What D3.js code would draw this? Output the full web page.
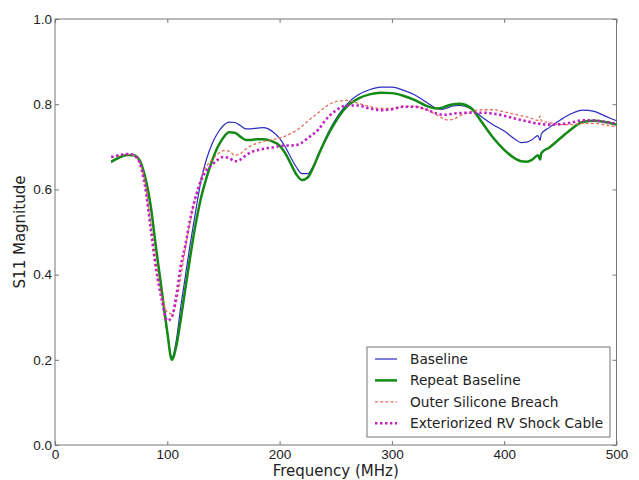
<!DOCTYPE html>
<html>
<head>
<meta charset="utf-8">
<script src="https://cdn.jsdelivr.net/npm/d3@7"></script>
<style>
  body { margin: 0; background: #fff; }
  svg { display: block; font-family: "DejaVu Sans", sans-serif; }
  .axis path, .axis line { stroke: #777; }
  .axis text { font-size: 13.5px; fill: #222; }
</style>
</head>
<body>
<svg id="chart"></svg>
<script>
"use strict";

// ---- data ----
const freq = [50, 55, 60, 65, 70, 75, 80, 85, 90, 95, 100, 104, 108, 112, 116, 120, 125, 130, 135, 140,
  145, 150, 155, 160, 165, 170, 175, 180, 185, 190, 195, 200, 205, 210, 215, 220, 225, 230, 235, 240,
  250, 260, 270, 280, 290, 300, 310, 320, 330, 340, 345, 350, 355, 360, 370, 380, 390, 400, 410, 415,
  420, 425, 430, 432, 433, 440, 450, 460, 470, 480, 490, 500];

const baseline = [0.663, 0.671, 0.677, 0.681, 0.680, 0.670, 0.632, 0.565, 0.462, 0.364, 0.262, 0.205, 0.245, 0.325, 0.395, 0.465, 0.545, 0.620, 0.672, 0.708,
  0.733, 0.750, 0.758, 0.757, 0.750, 0.742, 0.742, 0.744, 0.745, 0.742, 0.733, 0.720, 0.700, 0.675, 0.652, 0.637, 0.637, 0.655, 0.685, 0.715,
  0.765, 0.800, 0.822, 0.834, 0.840, 0.840, 0.833, 0.822, 0.806, 0.790, 0.788, 0.792, 0.796, 0.797, 0.790, 0.770, 0.752, 0.737, 0.717, 0.710,
  0.711, 0.717, 0.726, 0.715, 0.730, 0.745, 0.763, 0.778, 0.786, 0.783, 0.772, 0.761];

const repeatBaseline = [0.665, 0.672, 0.678, 0.681, 0.680, 0.670, 0.632, 0.565, 0.462, 0.364, 0.265, 0.200, 0.232, 0.295, 0.366, 0.435, 0.515, 0.580, 0.628, 0.668,
  0.700, 0.722, 0.734, 0.733, 0.724, 0.716, 0.716, 0.718, 0.718, 0.716, 0.711, 0.703, 0.685, 0.660, 0.635, 0.622, 0.628, 0.652, 0.683, 0.712,
  0.760, 0.795, 0.813, 0.823, 0.827, 0.826, 0.820, 0.810, 0.797, 0.790, 0.792, 0.797, 0.800, 0.801, 0.792, 0.758, 0.722, 0.693, 0.672, 0.666,
  0.665, 0.670, 0.680, 0.670, 0.685, 0.698, 0.720, 0.742, 0.758, 0.761, 0.758, 0.752];

const siliconeBreach = [0.675, 0.678, 0.681, 0.682, 0.680, 0.665, 0.620, 0.525, 0.425, 0.350, 0.312, 0.308, 0.335, 0.395, 0.460, 0.520, 0.580, 0.628, 0.655, 0.670,
  0.683, 0.691, 0.690, 0.680, 0.684, 0.695, 0.703, 0.708, 0.712, 0.715, 0.718, 0.720, 0.725, 0.731, 0.739, 0.748, 0.760, 0.771, 0.781, 0.792,
  0.806, 0.809, 0.802, 0.795, 0.790, 0.790, 0.795, 0.795, 0.788, 0.775, 0.767, 0.763, 0.765, 0.772, 0.782, 0.787, 0.787, 0.782, 0.776, 0.773,
  0.770, 0.766, 0.762, 0.772, 0.761, 0.757, 0.752, 0.752, 0.755, 0.755, 0.751, 0.747];

const shockCable = [0.676, 0.679, 0.682, 0.683, 0.680, 0.665, 0.610, 0.513, 0.413, 0.342, 0.292, 0.300, 0.350, 0.420, 0.468, 0.525, 0.580, 0.620, 0.645, 0.658,
  0.670, 0.676, 0.674, 0.666, 0.670, 0.680, 0.688, 0.692, 0.695, 0.697, 0.699, 0.702, 0.703, 0.703, 0.704, 0.710, 0.720, 0.730, 0.742, 0.760,
  0.785, 0.797, 0.797, 0.790, 0.786, 0.788, 0.794, 0.794, 0.788, 0.778, 0.775, 0.776, 0.778, 0.779, 0.780, 0.780, 0.778, 0.773, 0.766, 0.763,
  0.760, 0.757, 0.754, 0.754, 0.753, 0.752, 0.753, 0.757, 0.762, 0.762, 0.758, 0.755];

const seriesNames = ["Baseline", "Repeat Baseline", "Outer Silicone Breach", "Exteriorized RV Shock Cable"];
const seriesValues = [baseline, repeatBaseline, siliconeBreach, shockCable];

const xTicks = [0, 100, 200, 300, 400, 500];
const yTicks = [0.0, 0.2, 0.4, 0.6, 0.8, 1.0];

// ---- styles per series ----
const styles = [
  { color: "#2b2bc0", width: 1.2, dash: null },
  { color: "#138a13", width: 2.5, dash: null },
  { color: "#e2705c", width: 1.3, dash: "3,2.2" },
  { color: "#c21fc2", width: 2.6, dash: "2.4,2.6" }
];

// ---- layout ----
const W = 639, H = 480;
const plot = { left: 55, top: 19, right: 616.5, bottom: 445 };

const svg = d3.select("#chart").attr("width", W).attr("height", H);

const x = d3.scaleLinear().domain([0, 500]).range([plot.left, plot.right]);
const y = d3.scaleLinear().domain([0, 1]).range([plot.bottom, plot.top]);

// frame
svg.append("rect")
  .attr("x", plot.left).attr("y", plot.top)
  .attr("width", plot.right - plot.left).attr("height", plot.bottom - plot.top)
  .attr("fill", "none").attr("stroke", "#777").attr("stroke-width", 1);

// axes, ticks pointing inward
svg.append("g").attr("class", "axis")
  .attr("transform", `translate(0,${plot.bottom})`)
  .call(d3.axisBottom(x).tickValues(xTicks).tickSizeInner(-4).tickSizeOuter(0).tickPadding(4).tickFormat(d3.format("d")));

svg.append("g").attr("class", "axis")
  .attr("transform", `translate(0,${plot.top})`)
  .call(d3.axisTop(x).tickValues(xTicks).tickSizeInner(-4).tickSizeOuter(0).tickFormat(""));

svg.append("g").attr("class", "axis")
  .attr("transform", `translate(${plot.left},0)`)
  .call(d3.axisLeft(y).tickValues(yTicks).tickSizeInner(-4).tickSizeOuter(0).tickPadding(3).tickFormat(d3.format(".1f")));

svg.append("g").attr("class", "axis")
  .attr("transform", `translate(${plot.right},0)`)
  .call(d3.axisRight(y).tickValues(yTicks).tickSizeInner(-4).tickSizeOuter(0).tickFormat(""));

svg.selectAll(".axis .domain").remove();

// curves
const line = d3.line()
  .x(d => x(d[0]))
  .y(d => y(d[1]))
  .curve(d3.curveMonotoneX);

seriesValues.forEach((vals, i) => {
  const pts = freq.map((f, j) => [f, vals[j]]);
  svg.append("path")
    .datum(pts)
    .attr("d", line)
    .attr("fill", "none")
    .attr("stroke", styles[i].color)
    .attr("stroke-width", styles[i].width)
    .attr("stroke-dasharray", styles[i].dash)
    .attr("stroke-linejoin", "round");
});

// axis labels
svg.append("text")
  .attr("x", (plot.left + plot.right) / 2)
  .attr("y", 476)
  .attr("text-anchor", "middle")
  .style("font-size", "15px").style("fill", "#222")
  .text("Frequency (MHz)");

svg.append("text")
  .attr("transform", `translate(25,${(plot.top + plot.bottom) / 2}) rotate(-90)`)
  .attr("text-anchor", "middle")
  .style("font-size", "15px").style("fill", "#222")
  .text("S11 Magnitude");

// legend
const lg = { x: 367, y: 347, w: 243, h: 90 };
svg.append("rect")
  .attr("x", lg.x).attr("y", lg.y).attr("width", lg.w).attr("height", lg.h)
  .attr("fill", "#fff").attr("stroke", "#777").attr("stroke-width", 1);

seriesNames.forEach((name, i) => {
  const ry = lg.y + 12 + i * 21.4;
  svg.append("line")
    .attr("x1", lg.x + 8).attr("x2", lg.x + 30)
    .attr("y1", ry).attr("y2", ry)
    .attr("stroke", styles[i].color)
    .attr("stroke-width", styles[i].width)
    .attr("stroke-dasharray", styles[i].dash);
  svg.append("text")
    .attr("x", lg.x + 43).attr("y", ry + 5)
    .style("font-size", "13.7px").style("fill", "#222")
    .text(name);
});
</script>
</body>
</html>
